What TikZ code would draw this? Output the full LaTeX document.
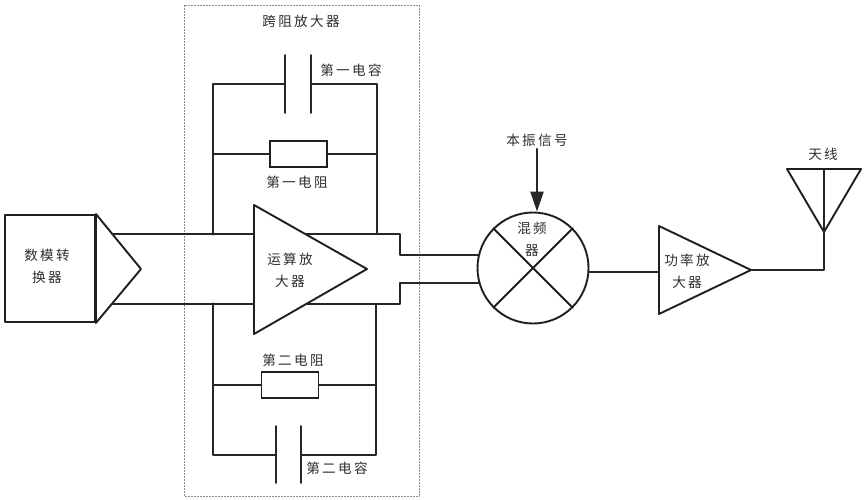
\documentclass[tikz,border=0pt]{standalone}
\usepackage{fontspec}
\usetikzlibrary{arrows.meta}
\newfontfamily\cjkfont[LetterSpace=17]{Noto Sans CJK SC}
\tikzset{
  wire/.style={draw=black!85,line width=1.7pt,line cap=round,line join=round},
  thick wire/.style={wire,line width=2pt},
  shape line/.style={draw=black!88,line width=1.9pt,line join=round},
  lbl/.style={font=\cjkfont\fontsize{13.6}{15}\selectfont,text=black!82,inner sep=0pt,align=center},
  resistor/.style={draw=black!88,line width=1.9pt,minimum width=57pt,minimum height=26pt,inner sep=0pt},
  group box/.style={draw=black!45,line width=.8pt,dash pattern=on 2pt off 1pt},
}
\begin{document}
\begin{tikzpicture}[x=1pt,y=-1pt]
\useasboundingbox (0,0) rectangle (864,500);
% transimpedance group
\coordinate (gA) at (184,5);
\coordinate (gB) at (419,496);
\draw[group box] (gA) rectangle (gB);
\node[lbl] (title) at (301,21) {跨阻放大器};

% DAC
\node[shape line,draw,minimum width=90pt,minimum height=107pt,inner sep=0pt] (dac) at (50,268.5) {};
\node[lbl] (dacT) at (47,266) {数模转\\[7pt]换器};
\coordinate (dacTip) at (141,269);
\coordinate (dacOutU) at (113,234);
\coordinate (dacOutL) at (113,304);
\draw[shape line] (dac.north east) -- (dacTip) -- (dac.south east) -- cycle;

% op amp
\coordinate (opA) at (254,205);
\coordinate (opB) at (254,334);
\coordinate (opTip) at (367,269);
\draw[shape line] (opA) -- (opTip) -- (opB) -- cycle;
\node[lbl] (opT) at (290,270) {运算放\\[7pt]大器};
\coordinate (inU) at (254,234);
\coordinate (inL) at (254,304);
\coordinate (outU) at (306,234);
\coordinate (outL) at (306,304);
\coordinate (jLU) at (213,234);
\coordinate (jLL) at (213,304);
\coordinate (jRU) at (377,234);
\coordinate (jRL) at (376,304);
\draw[thick wire] (dacOutU) -- (inU);
\draw[thick wire] (dacOutL) -- (inL);
\fill[black!85] (jLU) circle (1.7pt) (jLL) circle (1.7pt);

% first feedback pair
\coordinate (c1L) at (285,84);
\coordinate (c1R) at (311,84);
\coordinate (c1LT) at (285,55);
\coordinate (c1LB) at (285,113);
\coordinate (c1RT) at (311,55);
\coordinate (c1RB) at (311,113);
\draw[wire] (c1LT) -- (c1LB);
\draw[wire] (c1RT) -- (c1RB);
\draw[wire] (jLU) |- (c1L);
\draw[thick wire] (jRU) |- (c1R);
\node[lbl] (c1T) at (351,70) {第一电容};
\node[resistor] (r1) at (298.5,154) {};
\coordinate (r1L) at (213,154);
\coordinate (r1R) at (377,154);
\draw[wire] (r1.west) -- (r1L);
\draw[wire] (r1.east) -- (r1R);
\node[lbl] (r1T) at (297,182) {第一电阻};

% second feedback pair
\coordinate (c2L) at (276,455);
\coordinate (c2R) at (301,455);
\coordinate (c2LT) at (276,426);
\coordinate (c2LB) at (276,483);
\coordinate (c2RT) at (301,426);
\coordinate (c2RB) at (301,483);
\draw[wire] (c2LT) -- (c2LB);
\draw[wire] (c2RT) -- (c2RB);
\draw[thick wire] (jLL) |- (c2L);
\draw[thick wire] (jRL) |- (c2R);
\node[lbl] (c2T) at (337,468) {第二电容};
\node[resistor] (r2) at (290,385) {};
\coordinate (r2L) at (213,385);
\coordinate (r2R) at (376,385);
\draw[wire] (r2.west) -- (r2L);
\draw[wire] (r2.east) -- (r2R);
\node[lbl] (r2T) at (293,360) {第二电阻};

% mixer
\node[circle,shape line,draw,minimum size=111pt,inner sep=0pt] (mix) at (533,268) {};
\draw[shape line] (mix.45) -- (mix.225);
\draw[shape line] (mix.135) -- (mix.315);
\node[lbl] (mixT) at (532,239.5) {混频\\[7pt]器};
\node[lbl] (loT) at (537,140) {本振信号};
\coordinate (loS) at (537,149);
\draw[thick wire,line width=2.4pt,-{Triangle[length=20pt,width=13pt]}] (loS) -- (mix.north -| loS);

% op amp output to mixer
\coordinate (stepU) at (400,234);
\coordinate (stepUb) at (400,255);
\coordinate (stepL) at (400,304);
\coordinate (stepLb) at (400,283);
\coordinate (mixInL) at (479.5,283);
\coordinate (mixInU) at (479.5,255);
\draw[wire] (outU) -- (stepU) -- (stepUb) -- (mixInU);
\draw[wire] (outL) -- (stepL) -- (stepLb) -- (mixInL);

% power amp
\coordinate (paA) at (659,226);
\coordinate (paB) at (659,314);
\coordinate (paTip) at (751,270);
\coordinate (paIn) at (659,272);
\draw[shape line] (paA) -- (paTip) -- (paB) -- cycle;
\node[lbl] (paT) at (687,271) {功率放\\[7pt]大器};
\draw[wire] (mix.east |- paIn) -- (paIn);

% antenna
\coordinate (antL) at (787,169);
\coordinate (antR) at (861,169);
\coordinate (antM) at (824,169);
\coordinate (antTip) at (824,232);
\coordinate (antFeed) at (824,270);
\draw[shape line] (antL) -- (antR) -- (antTip) -- cycle;
\draw[wire] (antM) -- (antFeed) -- (paTip);
\node[lbl] (antT) at (823,154) {天线};
\end{tikzpicture}
\end{document}
